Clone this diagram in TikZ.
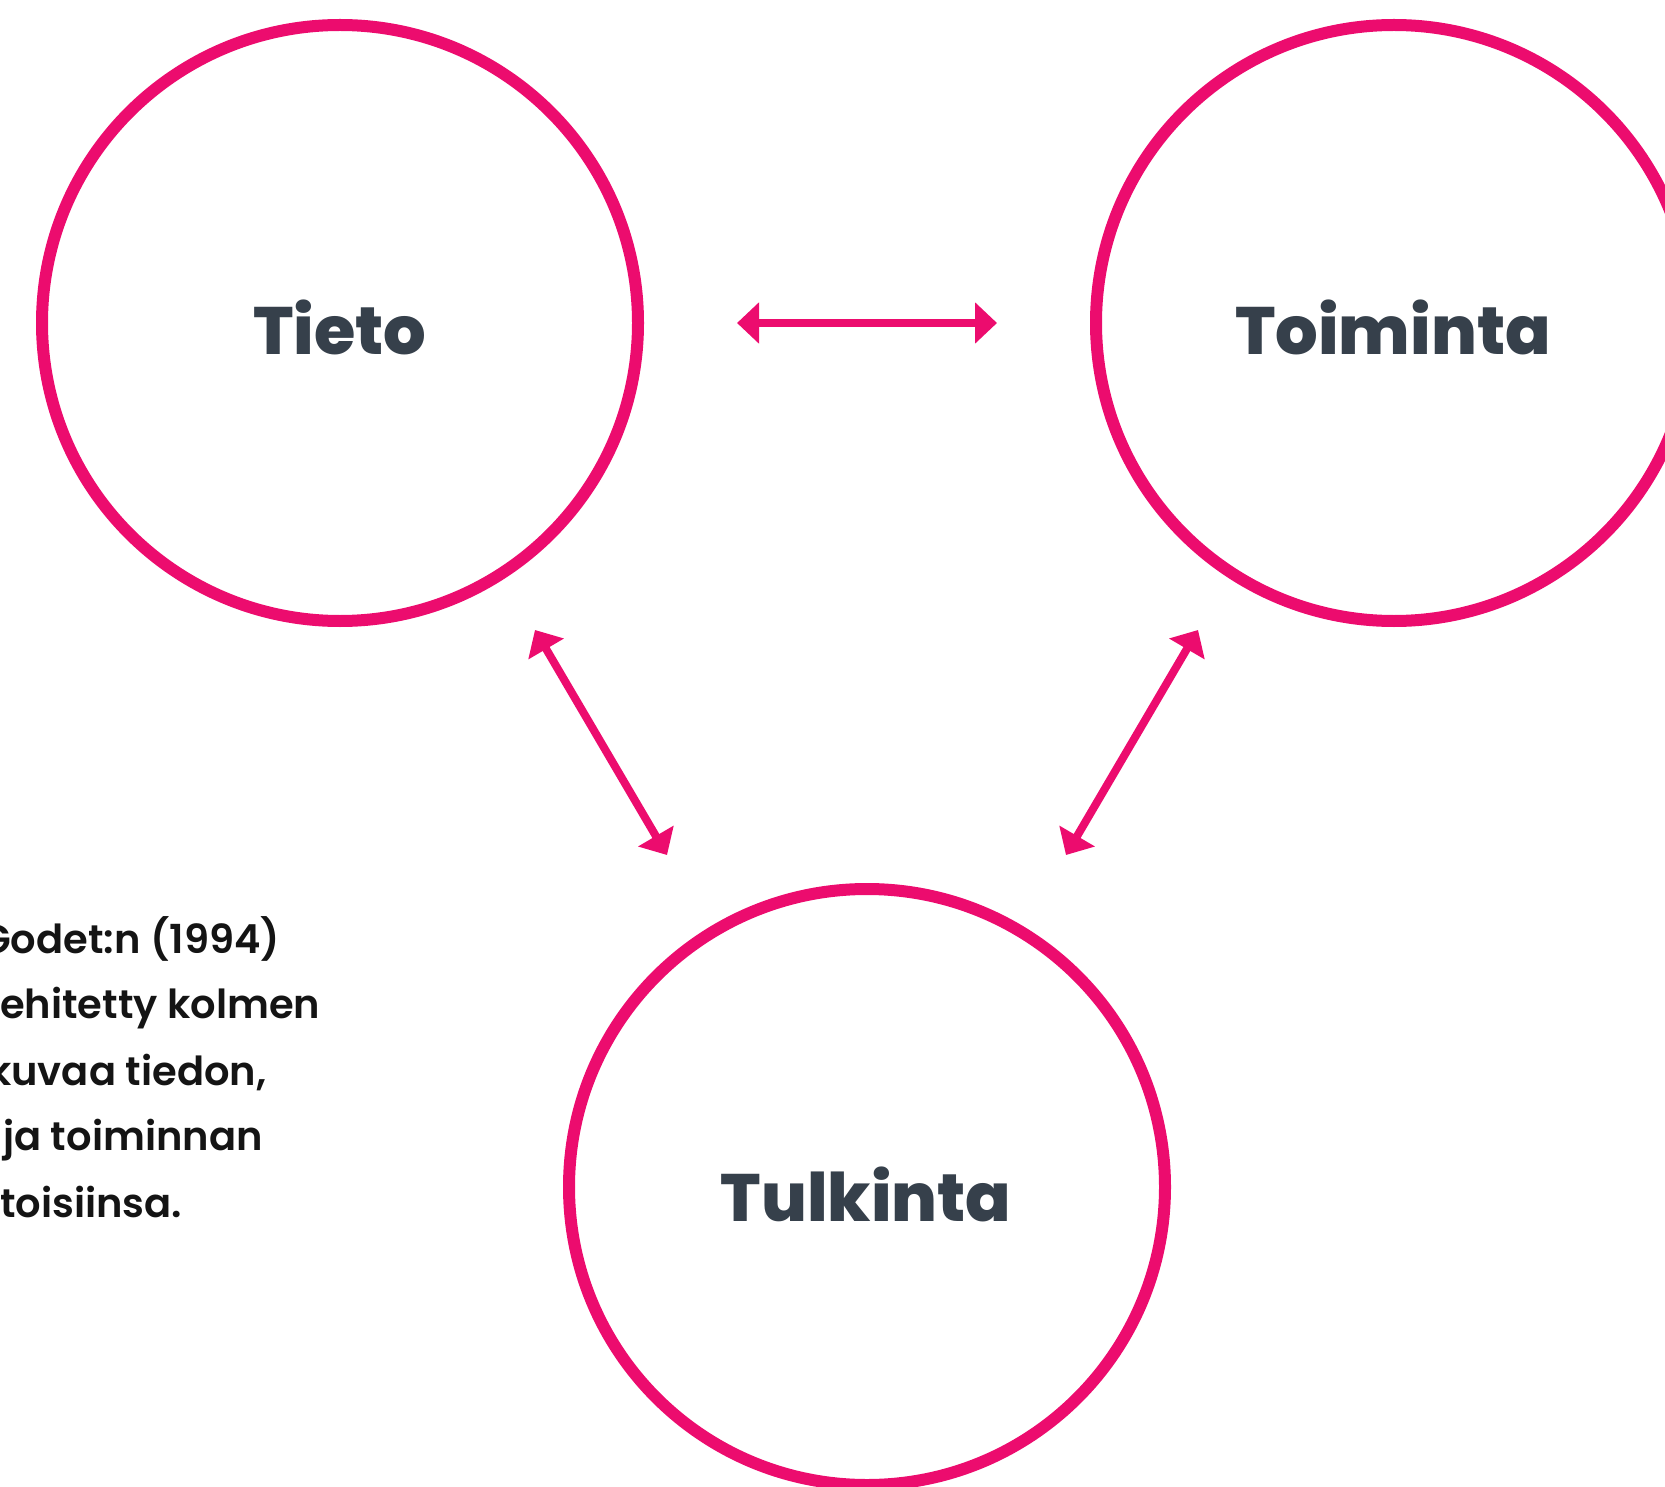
\documentclass[tikz,border=0pt]{standalone}
\usepackage{fontspec}
\setmainfont{Poppins}
\newfontfamily\labelfont{Poppins ExtraBold}
\newfontfamily\bodyfont{Poppins SemiBold}
\usetikzlibrary{arrows.meta}
\definecolor{pinkc}{HTML}{EC0C6E}
\definecolor{darkc}{HTML}{36404B}
\definecolor{bodyc}{HTML}{141414}
\tikzset{
  ring/.style={circle, draw=pinkc, line width=12pt, minimum size=596pt, inner sep=0pt},
  ringlabel/.style={anchor=base, text=darkc, font=\labelfont\fontsize{67}{70}\selectfont, inner sep=0pt},
  bodyline/.style={anchor=base west, text=bodyc, font=\bodyfont\fontsize{40}{48}\selectfont, inner sep=0pt},
  link/.style={draw=pinkc, line width=8pt, {Triangle[length=22pt,width=40pt]}-{Triangle[length=22pt,width=40pt]}}
}
\begin{document}
\begin{tikzpicture}[x=1pt,y=-1pt]
\clip (0,0) rectangle (1665,1487);
\useasboundingbox (0,0) rectangle (1665,1487);
\node[ring] (tieto) at (340,323) {};
\node[ring] (toiminta) at (1394,323) {};
\node[ring] (tulkinta) at (867,1187) {};
\node[ringlabel] (tietotxt) at (340,355) {Tieto};
\node[ringlabel] (toimintatxt) at (1393,355) {Toiminta};
\node[ringlabel] (tulkintatxt) at (866,1221) {Tulkinta};
\coordinate (h1) at (737,323);
\coordinate (h2) at (997,323);
\coordinate (l1) at (535,630);
\coordinate (l2) at (667,855);
\coordinate (r1) at (1198,630);
\coordinate (r2) at (1066,855);
\draw[link] (h1) -- (h2);
\draw[link] (l1) -- (l2);
\draw[link] (r1) -- (r2);
\node[bodyline] (t1) at (-20,953) {Godet:n (1994)};
\node[bodyline] (t2) at (0,1018) {ehitetty kolmen};
\node[bodyline] (t3) at (-12,1085) {kuvaa tiedon,};
\node[bodyline] (t4) at (3,1150) {ja toiminnan};
\node[bodyline] (t5) at (0,1217) {toisiinsa.};
\end{tikzpicture}
\end{document}
